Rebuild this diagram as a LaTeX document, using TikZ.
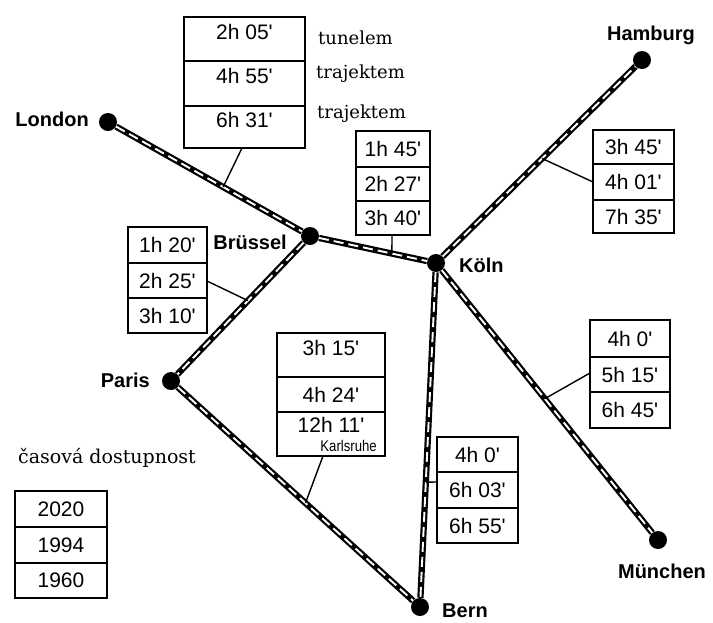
\documentclass[tikz,border=0pt]{standalone}
\usepackage{fontspec}
\usetikzlibrary{calc}
\newfontfamily\cellfont{Liberation Sans}[Ligatures=TeXOff]
\newfontfamily\cityfont{Liberation Sans}
\newfontfamily\notefont{DejaVu Serif}

\begin{document}
\begin{tikzpicture}[x=1pt,y=-1pt,
  rail/.style={line width=6.3pt, draw=black,
    postaction={draw=white, line width=1.9pt, dash pattern=on 10pt off 5pt}},
  city/.style={circle, fill=black, minimum size=18pt, inner sep=0pt},
  cityname/.style={font=\cityfont\bfseries\fontsize{20}{22}\selectfont, inner sep=0pt},
  cell/.style={draw, fill=white, line width=1.4pt, inner sep=0pt,
    font=\cellfont\fontsize{21}{23}\selectfont},
  raised/.style={text height=15pt, text depth=15pt},
  link/.style={line width=1.4pt},
  note/.style={font=\notefont\fontsize{18}{20}\selectfont, inner sep=0pt, anchor=base west}]

\useasboundingbox (0,0) rectangle (713,622);

% cities
\node[city] (lon)  at (108,122) {};
\node[city] (bru)  at (310,236) {};
\node[city] (kol)  at (436,263) {};
\node[city] (ham)  at (642,60)  {};
\node[city] (mun)  at (658,540) {};
\node[city] (par)  at (171,381) {};
\node[city] (bern) at (420,607) {};

% rail lines
\draw[rail] (lon) -- (bru);
\draw[rail] (bru) -- (kol);
\draw[rail] (bru) -- (par);
\draw[rail] (par) -- (bern);
\draw[rail] (kol) -- (bern);
\draw[rail] (kol) -- (ham);
\draw[rail] (kol) -- (mun);

% city names
\node[cityname, anchor=east] (nlon) at (89,119) {London};
\node[cityname, anchor=east] (nbru) at (287,242) {Brüssel};
\node[cityname, anchor=west] (nkol) at (459,265) {Köln};
\node[cityname, anchor=base] (nham) at (651,40) {Hamburg};
\node[cityname, anchor=base] (nmun) at (662,578) {München};
\node[cityname, anchor=east] (npar) at (150,380) {Paris};
\node[cityname, anchor=west] (nbern) at (442,611) {Bern};

% points on the lines where the tables attach
\coordinate (lb) at ($(lon)!0.57!(bru)$);
\coordinate (bp) at ($(bru)!0.446!(par)$);
\coordinate (bk) at ($(bru)!0.65!(kol)$);
\coordinate (kh) at ($(kol)!0.515!(ham)$);
\coordinate (km) at ($(kol)!0.49!(mun)$);
\coordinate (pb) at ($(par)!0.54!(bern)$);
\coordinate (kb) at ($(kol)!0.637!(bern)$);

% leader lines
\draw[link] (242,148) -- (lb);
\draw[link] (207,281) -- (bp);
\draw[link] (392,235) -- (bk);
\draw[link] (593,182) -- (kh);
\draw[link] (590,373) -- (km);
\draw[link] (323,456) -- (pb);
\draw[link] (437,482) -- (kb);

% London - Brussel
\node[cell, raised, minimum width=121pt, minimum height=44pt] (t1) at (244.5,39)  {2h 05'};
\node[cell, raised, minimum width=121pt, minimum height=45pt] (t2) at (244.5,83.5){4h 55'};
\node[cell, raised, minimum width=121pt, minimum height=42pt] (t3) at (244.5,127) {6h 31'};
\node[note] (n1) at (318,44)  {tunelem};
\node[note] (n2) at (316,78)  {trajektem};
\node[note] (n3) at (317,118) {trajektem};

% Brussel - Paris
\node[cell, minimum width=79pt, minimum height=36pt] (bp1) at (167.5,245)   {1h 20'};
\node[cell, minimum width=79pt, minimum height=35pt] (bp2) at (167.5,280.5) {2h 25'};
\node[cell, minimum width=79pt, minimum height=35pt] (bp3) at (167.5,315.5) {3h 10'};

% Brussel - Koln
\node[cell, minimum width=74pt, minimum height=36pt] (bk1) at (393,149) {1h 45'};
\node[cell, minimum width=74pt, minimum height=34pt] (bk2) at (393,184) {2h 27'};
\node[cell, minimum width=74pt, minimum height=34pt] (bk3) at (393,218) {3h 40'};

% Koln - Hamburg
\node[cell, minimum width=81pt, minimum height=34pt] (kh1) at (633.5,147)   {3h 45'};
\node[cell, minimum width=81pt, minimum height=36pt] (kh2) at (633.5,182)   {4h 01'};
\node[cell, minimum width=81pt, minimum height=33pt] (kh3) at (633.5,216.5) {7h 35'};

% Koln - Munchen
\node[cell, minimum width=80pt, minimum height=37pt] (km1) at (630,338.5) {4h 0'};
\node[cell, minimum width=80pt, minimum height=35pt] (km2) at (630,374.5) {5h 15'};
\node[cell, minimum width=80pt, minimum height=36pt] (km3) at (630,410)   {6h 45'};

% Paris - Bern
\node[cell, raised, minimum width=108pt, minimum height=44pt] (pb1) at (331,355)   {3h 15'};
\node[cell, minimum width=108pt, minimum height=35pt] (pb2) at (331,394.5) {4h 24'};
\node[cell, text height=15pt, text depth=19pt, minimum width=108pt, minimum height=44pt] (pb3) at (331,434) {12h 11'};
\node[font=\cellfont\fontsize{15.5}{17}\selectfont, inner sep=0pt, anchor=base east] (karl) at (377,451) {\scalebox{0.85}[1]{Karlsruhe}};

% Koln - Bern
\node[cell, minimum width=81pt, minimum height=35pt] (kb1) at (477.5,454.5) {4h 0'};
\node[cell, minimum width=81pt, minimum height=36pt] (kb2) at (477.5,490)   {6h 03'};
\node[cell, minimum width=81pt, minimum height=35pt] (kb3) at (477.5,525.5) {6h 55'};

% key
\node[note, font=\notefont\fontsize{19}{21}\selectfont] (key) at (18,463) {časová dostupnost};
\node[cell, minimum width=92pt, minimum height=36pt] (y1) at (61,509)   {2020};
\node[cell, minimum width=92pt, minimum height=36pt] (y2) at (61,545)   {1994};
\node[cell, minimum width=92pt, minimum height=35pt] (y3) at (61,580.5) {1960};

\end{tikzpicture}
\end{document}
